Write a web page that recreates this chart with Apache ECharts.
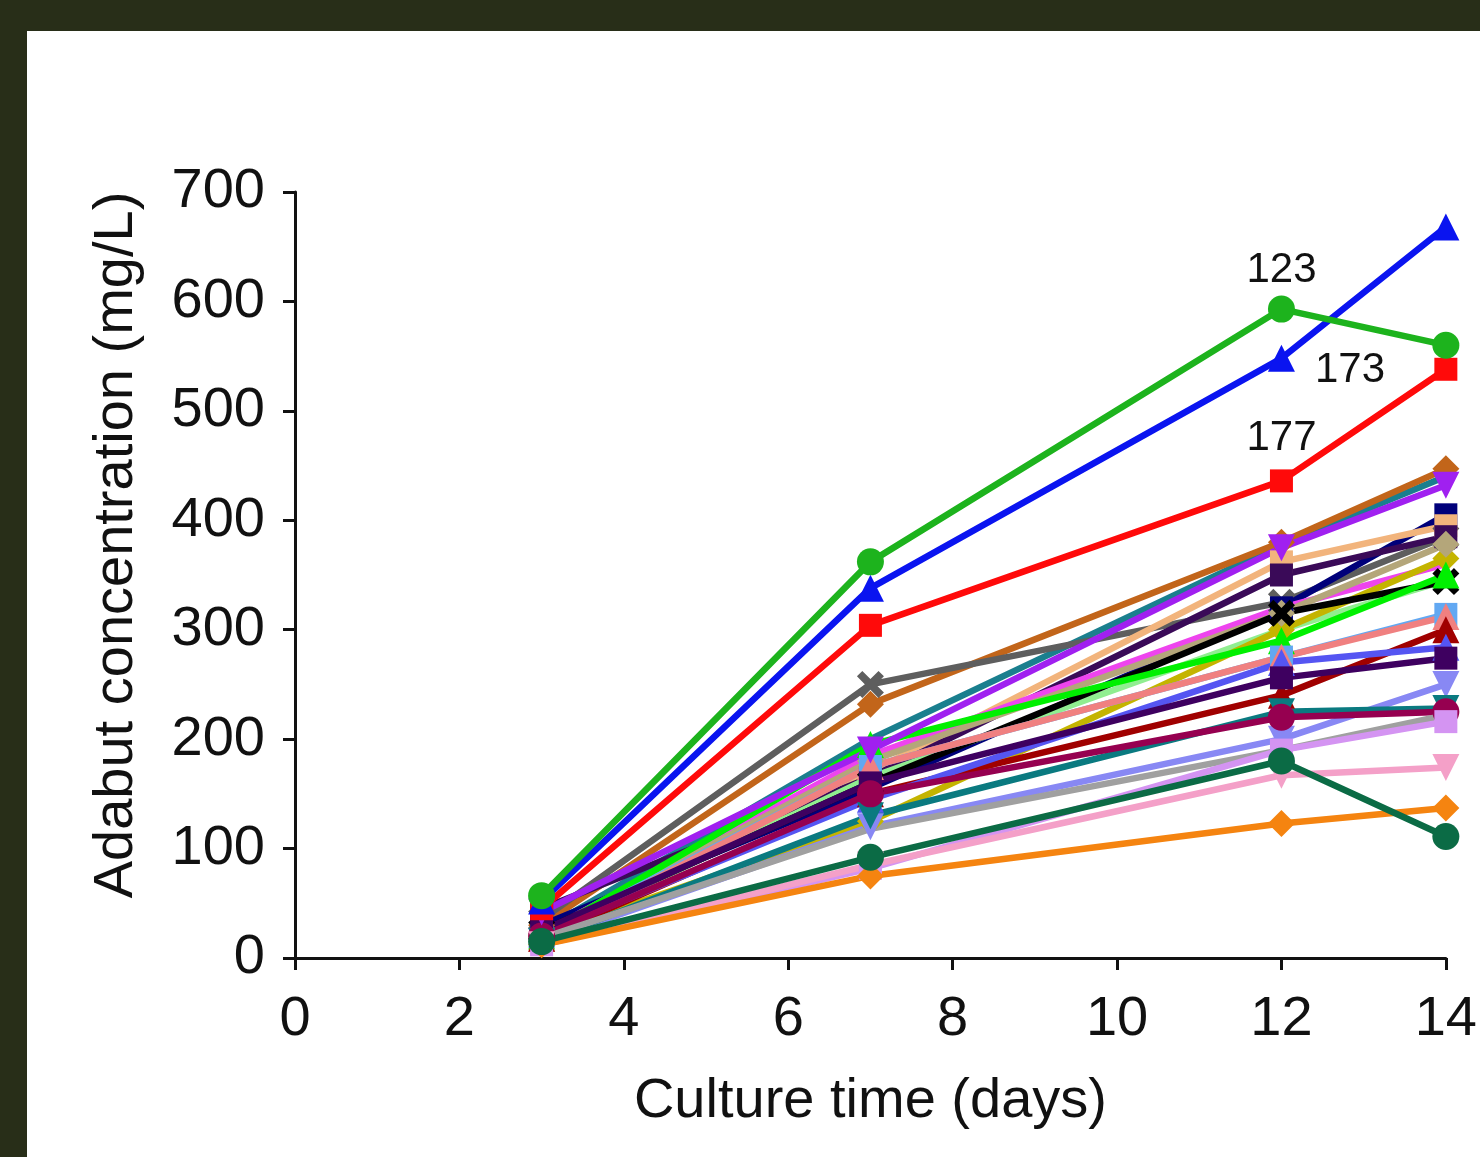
<!DOCTYPE html>
<html><head><meta charset="utf-8">
<script src="https://cdn.jsdelivr.net/npm/echarts@6/dist/echarts.min.js"></script>
<style>
html,body{margin:0;padding:0;background:#282e18;width:1480px;height:1157px;overflow:hidden;}
#c{position:absolute;left:27px;top:31px;width:1453px;height:1126px;background:#fff;}
</style></head>
<body><div id="c"></div>
<script>
const days = [3, 7, 12, 14];
const xTicks = [0, 2, 4, 6, 8, 10, 12, 14];
const yTicks = [0, 100, 200, 300, 400, 500, 600, 700];

const sTeal     = [25, 200, 378, 440];
const sBrown    = [30, 232, 380, 447];
const sGrayX    = [35, 250, 325, 385];
const sNavy     = [30, 155, 320, 405];
const sPeach    = [20, 170, 362, 395];
const sDkPurple = [45, 165, 350, 385];
const sMagenta  = [22, 185, 320, 360];
const sLtGreen  = [20, 165, 300, 345];
const sYellow   = [20, 125, 300, 365];
const sKhaki    = [22, 180, 315, 378];
const sBlack    = [25, 160, 315, 344];
const sLime     = [20, 195, 290, 350];
const sLtBlue   = [20, 175, 275, 314];
const sSalmon   = [18, 175, 275, 312];
const sDkRed    = [18, 150, 240, 300];
const sViolet   = [22, 145, 270, 284];
const sPlum     = [25, 160, 256, 274];
const sPeri     = [15, 120, 200, 250];
const sTeal2    = [15, 130, 225, 228];
const sMaroon   = [20, 150, 220, 225];
const sGray     = [18, 118, 190, 222];
const sLilac    = [12, 82, 190, 216];
const sPink     = [12, 85, 167, 174];
const sOrange   = [12, 75, 123, 137];
const sDkGreen  = [15, 92, 180, 111];
const sPurple   = [42, 190, 375, 432];
const s177      = [45, 304, 436, 538];
const s173      = [52, 338, 548, 668];
const s123      = [57, 362, 593, 560];
const labels = {s123: '123', s173: '173', s177: '177'};

const DOWN = 'path://M0,0 L10,0 L5,10 Z';
const XSYM = 'path://M2,0 L5,3 L8,0 L10,2 L7,5 L10,8 L8,10 L5,7 L2,10 L0,8 L3,5 L0,2 Z';

const defs = [
  ['teal', sTeal, '#1a7f8e', 'none'],
  ['brown', sBrown, '#c2651a', 'diamond'],
  ['grayx', sGrayX, '#5e5e5e', XSYM],
  ['navy', sNavy, '#00007a', 'rect'],
  ['peach', sPeach, '#f2b47c', 'rect'],
  ['dkpurple', sDkPurple, '#3a0a58', 'rect'],
  ['magenta', sMagenta, '#ee44ee', 'none'],
  ['ltgreen', sLtGreen, '#90ee90', 'none'],
  ['yellow', sYellow, '#c4b400', 'diamond'],
  ['khaki', sKhaki, '#b4a67a', 'diamond'],
  ['black', sBlack, '#000000', XSYM],
  ['lime', sLime, '#00f000', 'triangle'],
  ['ltblue', sLtBlue, '#62a8f2', 'rect'],
  ['salmon', sSalmon, '#f08080', 'triangle'],
  ['dkred', sDkRed, '#a00000', 'triangle'],
  ['violet', sViolet, '#5555f2', 'triangle'],
  ['plum', sPlum, '#3e0060', 'rect'],
  ['peri', sPeri, '#8888f4', DOWN],
  ['teal2', sTeal2, '#0a7a80', DOWN],
  ['maroon', sMaroon, '#960050', 'circle'],
  ['gray', sGray, '#a0a0a0', 'none'],
  ['lilac', sLilac, '#d494f2', 'rect'],
  ['pink', sPink, '#f4a0c8', DOWN],
  ['orange', sOrange, '#f58410', 'diamond'],
  ['dkgreen', sDkGreen, '#0b6b45', 'circle'],
  ['purple', sPurple, '#a020f0', DOWN],
  ['s177', s177, '#ff0a0a', 'rect'],
  ['s173', s173, '#0a14f0', 'triangle'],
  ['s123', s123, '#1db31d', 'circle']
];

const labelPos = {s123: ['top', 4, [0,0]], s173: ['right', 10, [10, 12]], s177: ['top', 10, [0,0]]};

const series = defs.map(([name, vals, color, sym]) => {
  const data = vals.map((v, i) => {
    const item = {value: [days[i], v]};
    if (labels[name] && days[i] === 12) {
      const lp = labelPos[name];
      item.label = {show: true, formatter: labels[name], position: lp[0], distance: lp[1], offset: lp[2],
        fontSize: 42, color: '#111', fontFamily: 'Liberation Sans, Arial, sans-serif'};
    }
    return item;
  });
  return {
    name, type: 'line', data,
    symbol: sym === 'none' ? 'circle' : sym,
    symbolSize: sym === 'none' ? 0 : (sym === 'rect' ? 23 : 27),
    showSymbol: sym !== 'none',
    lineStyle: {color, width: 6.5},
    itemStyle: {color},
    label: {show: false},
    silent: true,
    animation: false
  };
});

const chart = echarts.init(document.getElementById('c'), null, {renderer: 'canvas'});
chart.setOption({
  animation: false,
  grid: {left: 268, right: 31, top: 161, bottom: 199, containLabel: false},
  xAxis: {
    type: 'value', min: 0, max: 14, interval: 2,
    name: 'Culture time (days)', nameLocation: 'middle', nameGap: 116,
    nameTextStyle: {fontSize: 56, color: '#111', fontFamily: 'Liberation Sans, Arial, sans-serif'},
    axisLine: {lineStyle: {color: '#111', width: 3}},
    axisTick: {show: true, length: 12, lineStyle: {color: '#111', width: 3}},
    axisLabel: {fontSize: 56, color: '#111', margin: 34, fontFamily: 'Liberation Sans, Arial, sans-serif',
      formatter: v => xTicks.includes(v) ? String(v) : ''},
    splitLine: {show: false}
  },
  yAxis: {
    type: 'value', min: 0, max: 700, interval: 100,
    name: 'Adabut concentration (mg/L)', nameLocation: 'middle', nameGap: 150, nameRotate: 90,
    nameTextStyle: {fontSize: 56, color: '#111', fontFamily: 'Liberation Sans, Arial, sans-serif', padding: [0, 0, 0, 60]},
    axisLine: {show: true, lineStyle: {color: '#111', width: 3}},
    axisTick: {show: true, length: 12, lineStyle: {color: '#111', width: 3}},
    axisLabel: {fontSize: 56, color: '#111', margin: 30, fontFamily: 'Liberation Sans, Arial, sans-serif',
      formatter: v => yTicks.includes(v) ? String(v) : ''},
    splitLine: {show: false}
  },
  series
});
</script></body></html>
